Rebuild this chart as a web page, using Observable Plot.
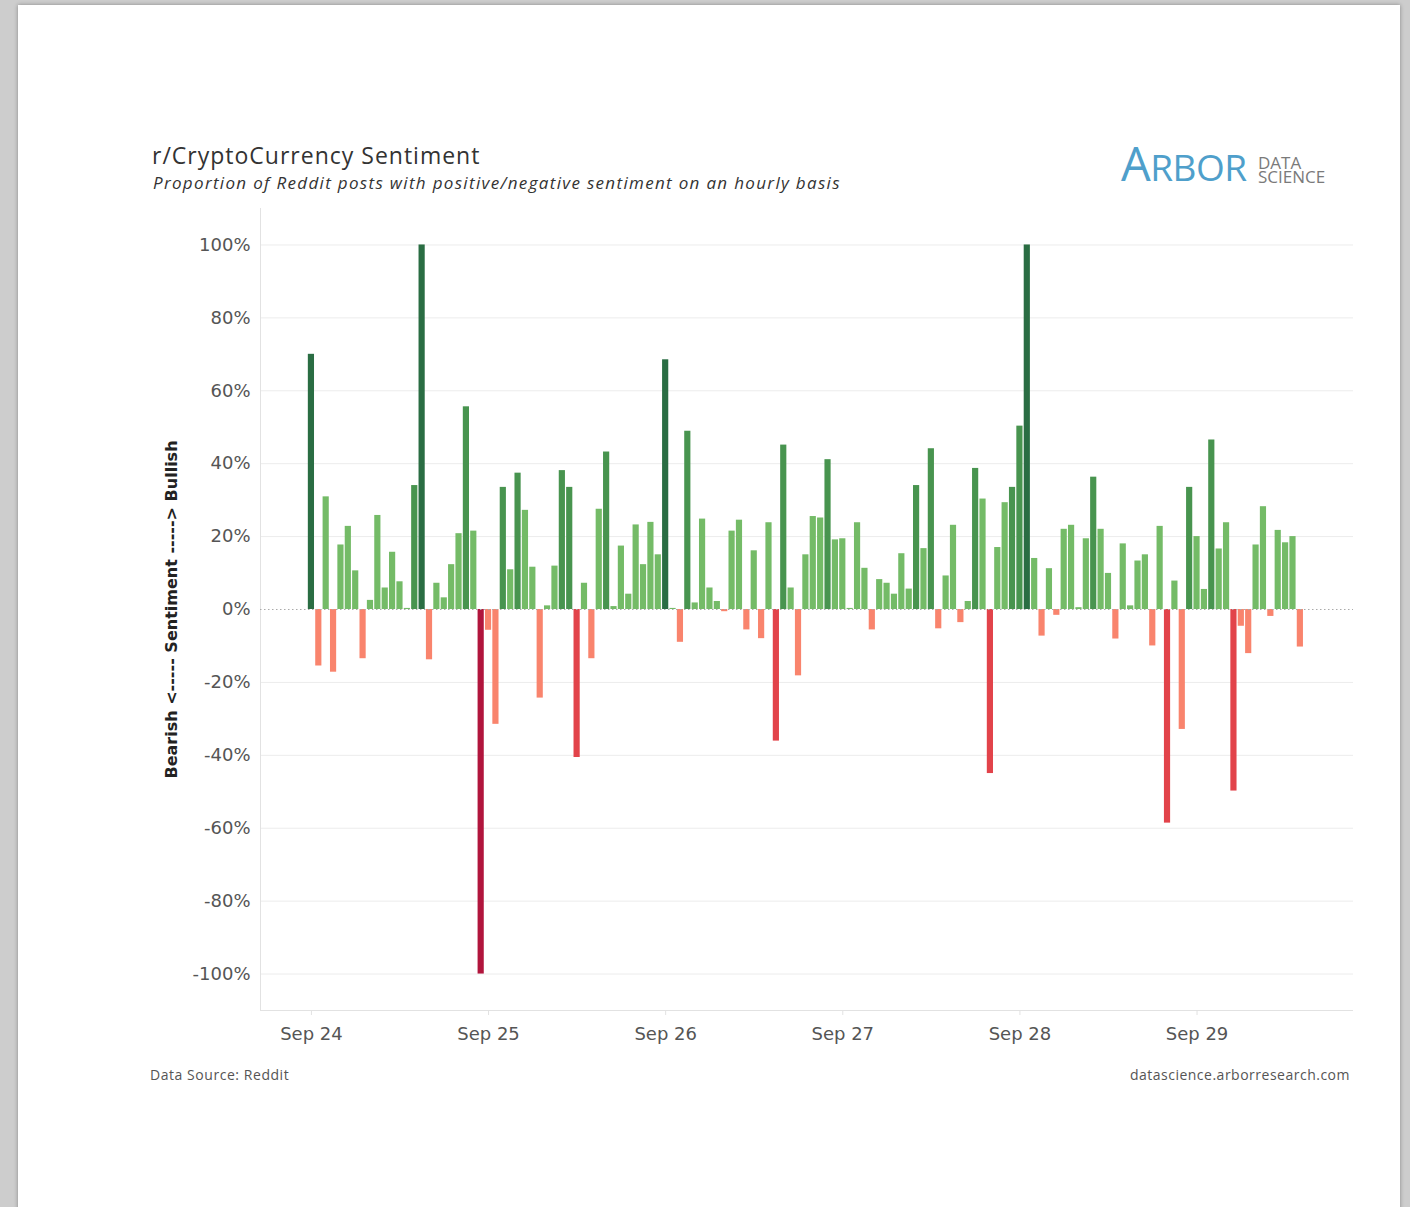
<!DOCTYPE html>
<html>
<head>
<meta charset="utf-8">
<script src="https://cdn.jsdelivr.net/npm/d3@7"></script>
<script src="https://cdn.jsdelivr.net/npm/@observablehq/plot@0.6"></script>
<style>
  html, body { margin: 0; padding: 0; }
  body { width: 1410px; height: 1207px; background: #cdcdcd; position: relative; overflow: hidden; }
  #page { position: absolute; left: 18px; top: 5px; width: 1382px; height: 1215px; background: #fff; box-shadow: 0 0 4px rgba(0,0,0,0.35); }
  .t { position: absolute; white-space: nowrap; line-height: 1; }
  #title { left: 152px; top: 139px; font: 23px "Open Sans", sans-serif; color: #333; letter-spacing: 1px; }
  #subtitle { left: 153px; top: 171px; font: italic 17px "Open Sans", sans-serif; color: #333; letter-spacing: 1.32px; }
  #logo { left: 1121px; top: 140px; font-family: "Open Sans", sans-serif; color: #4f9fcb; font-weight: 400; letter-spacing: -0.5px; }
  #logo .big { font-size: 47px; }
  #logo .rest { font-size: 37px; }
  .logo2 { left: 1258px; font: 17px "Open Sans", sans-serif; color: #7a7a7a; line-height: 14px; height: 14px; }
  #logoData { top: 156px; }
  #logoSci { top: 170px; }
  #src { left: 150px; top: 1065px; font: 14px "Open Sans", sans-serif; color: #555; letter-spacing: 0.55px; }
  #url { right: 60px; top: 1065px; font: 14px "Open Sans", sans-serif; color: #555; letter-spacing: 0.5px; }
  #chart { position: absolute; left: 0; top: 200px; }
</style>
</head>
<body>
<div id="page"></div>
<div class="t" id="title">r/CryptoCurrency Sentiment</div>
<div class="t" id="subtitle">Proportion of Reddit posts with positive/negative sentiment on an hourly basis</div>
<div class="t" id="logo"><span class="big">A</span><span class="rest">RBOR</span></div>
<div class="t logo2" id="logoData">DATA</div>
<div class="t logo2" id="logoSci">SCIENCE</div>
<div class="t" id="src">Data Source: Reddit</div>
<div class="t" id="url">datascience.arborresearch.com</div>
<div id="chart"></div>
<script>
// Hourly sentiment (%), starting Sep 24 00:00, one value per hour
const startDay = "2018-09-24T00:00:00Z";
const sentiment = [
  70, -15.5, 30.9, -17.2, 17.7, 22.8, 10.6, -13.5, 2.5, 25.8, 5.9, 15.7, 7.6, 0.3, 34.0, 100, -13.8, 7.2, 3.2, 12.3, 20.8, 55.6, 21.5, -100,
  -5.7, -31.5, 33.5, 10.9, 37.4, 27.2, 11.6, -24.3, 1.0, 11.9, 38.1, 33.5, -40.6, 7.2, -13.5, 27.5, 43.2, 0.8, 17.4, 4.2, 23.2, 12.3, 23.9, 15.0,
  68.5, 0.3, -9.0, 48.9, 1.8, 24.8, 5.9, 2.2, -0.6, 21.5, 24.5, -5.6, 16.1, -8.0, 23.8, -36.1, 45.1, 5.9, -18.2, 15.0, 25.5, 25.1, 41.1, 19.1,
  19.4, 0.3, 23.8, 11.3, -5.6, 8.2, 7.2, 4.2, 15.3, 5.6, 34.0, 16.7, 44.1, -5.3, 9.2, 23.1, -3.6, 2.2, 38.7, 30.3, -45, 17.0, 29.3, 33.5,
  50.3, 100, 14.0, -7.3, 11.2, -1.6, 22.0, 23.1, 0.5, 19.4, 36.3, 22.0, 9.9, -8.1, 18.0, 1.0, 13.3, 15.0, -10.0, 22.8, -58.6, 7.8, -32.9, 33.5,
  20.0, 5.5, 46.5, 16.6, 23.8, -49.8, -4.6, -12.1, 17.7, 28.2, -1.9, 21.7, 18.3, 20.0, -10.3
];
const dayTicks = ["2018-09-24", "2018-09-25", "2018-09-26", "2018-09-27", "2018-09-28", "2018-09-29"];
const yTicks = [-100, -80, -60, -40, -20, 0, 20, 40, 60, 80, 100];
const colorSteps = [-66.67, -33.33, 0, 33.33, 66.67];
const colorRange = ["#b1153c", "#e2434a", "#f9846d", "#74bb67", "#48944f", "#2a6d43"];
const axisTitle = "Bearish <----- Sentiment -----> Bullish";

const HOUR = 3600e3;
const t0 = new Date(startDay).getTime();
const data = sentiment.map((v, i) => ({ t: t0 + i * HOUR, v }));
const days = dayTicks.map(d => new Date(d + "T00:00:00Z"));

const chart = Plot.plot({
  width: 1410,
  height: 860,
  marginLeft: 260,
  marginRight: 57,
  marginTop: 8,
  marginBottom: 50,
  style: { fontFamily: "DejaVu Sans", fontSize: "18px", color: "#555", background: "transparent" },
  x: { type: "utc", domain: [new Date(t0 - 6.9 * HOUR), new Date(t0 + 141.2 * HOUR)] },
  y: { domain: [-110, 110] },
  color: { type: "threshold", domain: colorSteps, range: colorRange },
  marks: [
    Plot.ruleY(yTicks.filter(d => d !== 0), { stroke: "#ececec" }),
    Plot.ruleX([new Date(t0 - 6.9 * HOUR)], { stroke: "#e2e2e2" }),
    Plot.ruleY([-110], { stroke: "#e2e2e2" }),
    Plot.rectY(data, {
      x1: d => new Date(d.t - HOUR / 2),
      x2: d => new Date(d.t + HOUR / 2),
      y1: 0,
      y2: "v",
      fill: "v",
      insetLeft: 0.6,
      insetRight: 0.6
    }),
    Plot.ruleY([0], { stroke: "#aaa", strokeDasharray: "1.5,2.5" }),
    Plot.axisY({ ticks: yTicks, tickFormat: d => d + "%", tickSize: 0, tickPadding: 10, label: null, fill: "#555" }),
    Plot.axisX({ ticks: days, tickFormat: d3.utcFormat("%b %d"), tickSize: 5, tickPadding: 12, label: null, stroke: "#e2e2e2", fill: "#555" }),
    Plot.text([axisTitle], { frameAnchor: "left", dx: -89, rotate: -90, textAnchor: "middle", fontWeight: "bold", fill: "#222", fontSize: 16 })
  ]
});
document.getElementById("chart").appendChild(chart);
</script>
</body>
</html>
